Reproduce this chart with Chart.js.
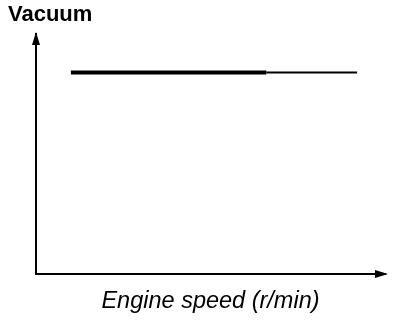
<!DOCTYPE html>
<html>
<head>
<meta charset="utf-8">
<script src="https://cdn.jsdelivr.net/npm/chart.js@4"></script>
<style>
  body { margin: 0; background: #fff; }
</style>
</head>
<body>
<canvas id="chart" width="416" height="322"></canvas>
<script>
// engine speed (arbitrary units) and vacuum level
const speed = [1.0, 6.6, 9.2];
const vacuum = [8.4, 8.4, 8.4];
const yTitle = 'Vacuum';
const xTitle = 'Engine speed (r/min)';

const font = '"Liberation Sans", Arial, sans-serif';

// axis arrow heads
const arrows = {
    id: 'arrows',
    afterDraw(chart) {
        const ctx = chart.ctx;
        const a = chart.chartArea;
        ctx.save();
        ctx.fillStyle = '#000';
        // up arrow
        ctx.beginPath();
        ctx.moveTo(a.left, a.top - 2);
        ctx.lineTo(a.left - 4, a.top + 11);
        ctx.lineTo(a.left + 4, a.top + 11);
        ctx.closePath();
        ctx.fill();
        // right arrow
        ctx.beginPath();
        ctx.moveTo(a.right + 3, a.bottom);
        ctx.lineTo(a.right - 10, a.bottom - 4);
        ctx.lineTo(a.right - 10, a.bottom + 4);
        ctx.closePath();
        ctx.fill();
        ctx.restore();
    }
};

const thick = [{ x: speed[0], y: vacuum[0] }, { x: speed[1], y: vacuum[1] }];
const thin = [{ x: speed[1], y: vacuum[1] }, { x: speed[2], y: vacuum[2] }];

new Chart(document.getElementById('chart'), {
    type: 'line',
    data: {
        datasets: [
            { data: thick, borderColor: '#000', borderWidth: 4, pointRadius: 0 },
            { data: thin, borderColor: '#000', borderWidth: 2, pointRadius: 0 }
        ]
    },
    options: {
        responsive: false,
        animation: false,
        layout: { padding: { left: 8, right: 31, top: 0, bottom: 4 } },
        plugins: {
            legend: { display: false },
            tooltip: { enabled: false },
            title: {
                display: true,
                text: yTitle,
                align: 'start',
                color: '#000',
                font: { family: font, size: 22, weight: 'bold' },
                padding: { top: 2, bottom: 5.6 }
            }
        },
        scales: {
            x: {
                type: 'linear',
                min: 0,
                max: 10,
                grid: { display: false },
                ticks: { display: false },
                border: { display: true, color: '#000', width: 2 },
                title: {
                    display: true,
                    text: xTitle,
                    color: '#000',
                    font: { family: font, size: 23.5, style: 'italic' },
                    padding: { top: 0, bottom: 2 }
                },
                afterFit(scale) { scale.height = 44; }
            },
            y: {
                min: 0,
                max: 10,
                grid: { display: false },
                ticks: { display: false },
                border: { display: true, color: '#000', width: 2 },
                afterFit(scale) { scale.width = 28; }
            }
        }
    },
    plugins: [arrows]
});
</script>
</body>
</html>
